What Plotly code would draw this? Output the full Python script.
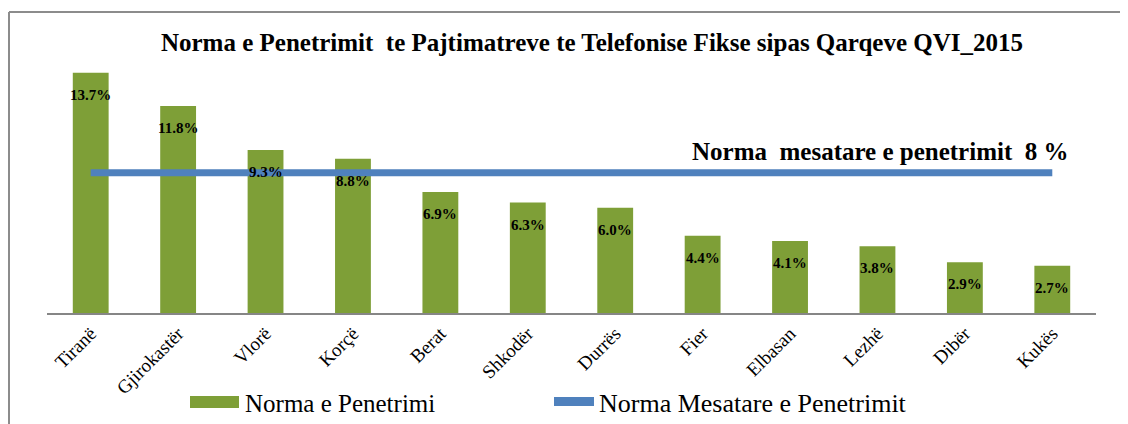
import plotly.graph_objects as go

categories = ["Tiranë", "Gjirokastër", "Vlorë", "Korçë", "Berat", "Shkodër",
              "Durrës", "Fier", "Elbasan", "Lezhë", "Dibër", "Kukës"]
values = [13.7, 11.8, 9.3, 8.8, 6.9, 6.3, 6.0, 4.4, 4.1, 3.8, 2.9, 2.7]
average = 8.0
title_text = "Norma e Penetrimit\u00a0 te Pajtimatreve te Telefonise Fikse sipas Qarqeve QVI_2015"
avg_label = "Norma\u00a0 mesatare e penetrimit\u00a0 8 %"
legend_names = ["Norma e Penetrimi", "Norma Mesatare e Penetrimit"]

# page has an 8px body margin; figure sized to fill the remaining window
OFF = 8
W, H = 1128 - OFF, 424 - OFF
# plot area in screen pixels
SL, SR, ST, SB = 47, 1096, 50, 313
L, R, T, B = SL - OFF, 1128 - SR, ST - OFF, 424 - SB
pw = SR - SL
ph = SB - ST

def px_x(sx):
    return (sx - SL) / pw

def px_y(sy):
    return (SB - sy) / ph

serif = "Liberation Serif"
green = "#7E9F37"
blue = "#4F81BD"

fig = go.Figure()
fig.add_trace(go.Bar(
    x=categories, y=values, marker=dict(color=green, line=dict(width=0)),
    name=legend_names[0], showlegend=False, hoverinfo="x+y",
))
fig.add_trace(go.Scatter(
    x=[categories[0], categories[-1]], y=[average, average], mode="lines",
    line=dict(color=blue, width=7), name=legend_names[1], showlegend=False,
))

annotations = []
for c, v in zip(categories, values):
    annotations.append(dict(
        x=c, y=v, xref="x", yref="y", text=f"<b>{v:.1f}%</b>", showarrow=False,
        yshift=-22, font=dict(family=serif, size=15, color="black"),
    ))
annotations.append(dict(
    x=px_x(880), xref="paper", xanchor="center", y=average, yref="y", yshift=21,
    text=f"<b>{avg_label}</b>",
    showarrow=False, font=dict(family=serif, size=25, color="black"),
))
# manual legend text
annotations.append(dict(
    x=px_x(243), y=px_y(403), xref="paper", yref="paper", xanchor="left", yanchor="middle",
    text=legend_names[0], showarrow=False, font=dict(family=serif, size=25, color="black"),
))
annotations.append(dict(
    x=px_x(597), y=px_y(403), xref="paper", yref="paper", xanchor="left", yanchor="middle",
    text=legend_names[1], showarrow=False, font=dict(family=serif, size=26, color="black"),
))

shapes = [
    # legend swatches
    dict(type="rect", xref="paper", yref="paper", x0=px_x(190), x1=px_x(239),
         y0=px_y(396), y1=px_y(408), fillcolor=green, line=dict(width=0)),
    dict(type="rect", xref="paper", yref="paper", x0=px_x(554), x1=px_x(594),
         y0=px_y(397), y1=px_y(406), fillcolor=blue, line=dict(width=0)),
    # chart frame (left and top)
    dict(type="line", xref="paper", yref="paper", x0=px_x(9), x1=px_x(9),
         y0=px_y(12), y1=px_y(430), line=dict(color="#8C8C8C", width=2)),
    dict(type="line", xref="paper", yref="paper", x0=px_x(9), x1=px_x(1135),
         y0=px_y(12), y1=px_y(12), line=dict(color="#8C8C8C", width=2)),
]

fig.update_layout(
    width=W, height=H,
    margin=dict(l=L, r=R, t=T, b=B),
    paper_bgcolor="white", plot_bgcolor="white",
    bargap=0.59,
    title=dict(text=f"<b>{title_text}</b>", x=px_x(592), xref="paper", xanchor="center",
               y=1 - (42 - OFF) / H, yref="container", yanchor="middle",
               font=dict(family=serif, size=25, color="black")),
    xaxis=dict(tickangle=-45, tickfont=dict(family=serif, size=19, color="black"),
               showline=True, linecolor="#868686", linewidth=2, ticks="",
               showgrid=False, range=[-0.5, 11.5]),
    yaxis=dict(range=[0, 15], visible=False, showgrid=False, zeroline=False),
    annotations=annotations,
    shapes=shapes,
    showlegend=False,
)

fig.write_html("out.html")
